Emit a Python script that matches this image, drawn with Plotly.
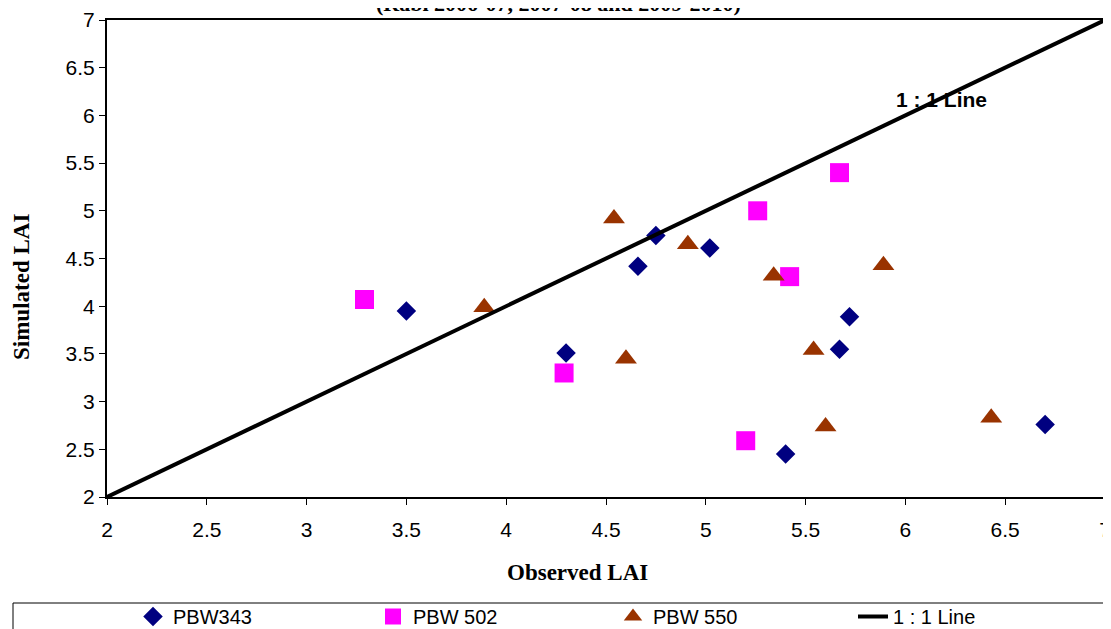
import plotly.graph_objects as go

# PBW343 (diamonds)
pbw343_obs = [3.50, 4.30, 4.75, 4.66, 5.02, 5.72, 5.67, 5.40, 6.70]
pbw343_sim = [3.95, 3.51, 4.74, 4.42, 4.61, 3.89, 3.55, 2.45, 2.76]
# PBW 502 (squares)
pbw502_obs = [3.29, 4.29, 5.26, 5.67, 5.42, 5.20]
pbw502_sim = [4.07, 3.30, 5.00, 5.40, 4.31, 2.59]
# PBW 550 (triangles)
pbw550_obs = [4.54, 3.89, 4.91, 4.60, 5.34, 5.89, 5.54, 5.60, 6.43]
pbw550_sim = [4.92, 3.99, 4.65, 3.45, 4.32, 4.43, 3.54, 2.74, 2.83]
# 1:1 line
line_x = [2, 7]
line_y = [2, 7]

x_ticks = [2, 2.5, 3, 3.5, 4, 4.5, 5, 5.5, 6, 6.5, 7]
y_ticks = [2, 2.5, 3, 3.5, 4, 4.5, 5, 5.5, 6, 6.5, 7]

W, H = 1103, 621

fig = go.Figure()
fig.add_trace(go.Scatter(x=pbw343_obs, y=pbw343_sim, mode="markers", name="PBW343",
                         marker=dict(symbol="diamond", size=15, color="#000080")))
fig.add_trace(go.Scatter(x=pbw502_obs, y=pbw502_sim, mode="markers", name="PBW 502",
                         marker=dict(symbol="square", size=19, color="#FF00FF")))
fig.add_trace(go.Scatter(x=pbw550_obs, y=pbw550_sim, mode="markers", name="PBW 550",
                         marker=dict(symbol="triangle-up", size=19, color="#993300")))
fig.add_trace(go.Scatter(x=line_x, y=line_y, mode="lines", name="1 : 1 Line",
                         line=dict(color="black", width=4)))

fig.add_annotation(x=6.18, y=6.17, text="<b>1 : 1 Line</b>", showarrow=False,
                   font=dict(family="Liberation Sans, Arial", size=21, color="black"))

fig.add_annotation(xref="paper", yref="paper", x=0.452, y=1, yanchor="bottom",
                   yshift=2, text="<b>(Rabi 2006-07, 2007-08 and 2009-2010)</b>",
                   showarrow=False,
                   font=dict(family="Liberation Serif, Times New Roman", size=22, color="black"))

# axis titles (placed like the reference)
fig.add_annotation(xref="paper", yref="paper", x=(577 - 107) / 998, y=(497 - 572) / 477,
                   xanchor="center", yanchor="middle",
                   text="<b>Observed LAI</b>", showarrow=False,
                   font=dict(family="Liberation Serif, Times New Roman", size=23, color="black"))
fig.add_annotation(xref="paper", yref="paper", x=(21 - 107) / 998, y=(497 - 287) / 477,
                   xanchor="center", yanchor="middle",
                   text="<b>Simulated LAI</b>", showarrow=False, textangle=-90,
                   font=dict(family="Liberation Serif, Times New Roman", size=23, color="black"))

# legend box
fig.add_shape(type="rect", xref="paper", yref="paper",
              x0=(13 - 107) / 998, x1=(1108 - 107) / 998,
              y0=(497 - 640) / 477, y1=(497 - 603) / 477,
              line=dict(color="black", width=1), fillcolor="rgba(0,0,0,0)", layer="above")

fig.update_layout(
    width=W, height=H,
    margin=dict(l=99, r=6, t=12, b=132, autoexpand=False),
    paper_bgcolor="white", plot_bgcolor="white",
    showlegend=True,
    legend=dict(orientation="h", xref="container", x=125 / W, xanchor="left",
                yref="container", y=1 - 589 / H, yanchor="top",
                entrywidth=195, entrywidthmode="pixels",
                font=dict(family="Liberation Sans, Arial", size=20, color="black"),
                bgcolor="rgba(0,0,0,0)", borderwidth=0),
    xaxis=dict(range=[2, 7], tickvals=x_ticks, ticktext=[f"{v:g}" for v in x_ticks],
               automargin=False,
               showgrid=False, zeroline=False, showline=True, linecolor="black", linewidth=2,
               mirror=True, ticks="outside", ticklen=6, tickcolor="black",
               ticklabelstandoff=7,
               tickfont=dict(family="Liberation Sans, Arial", size=21, color="black")),
    yaxis=dict(range=[2, 7], tickvals=y_ticks, ticktext=[f"{v:g}" for v in y_ticks],
               automargin=False,
               showgrid=False, zeroline=False, showline=True, linecolor="black", linewidth=2,
               mirror=True, ticks="outside", ticklen=6, tickcolor="black",
               tickfont=dict(family="Liberation Sans, Arial", size=21, color="black")),
)

fig.write_html("out.html")
